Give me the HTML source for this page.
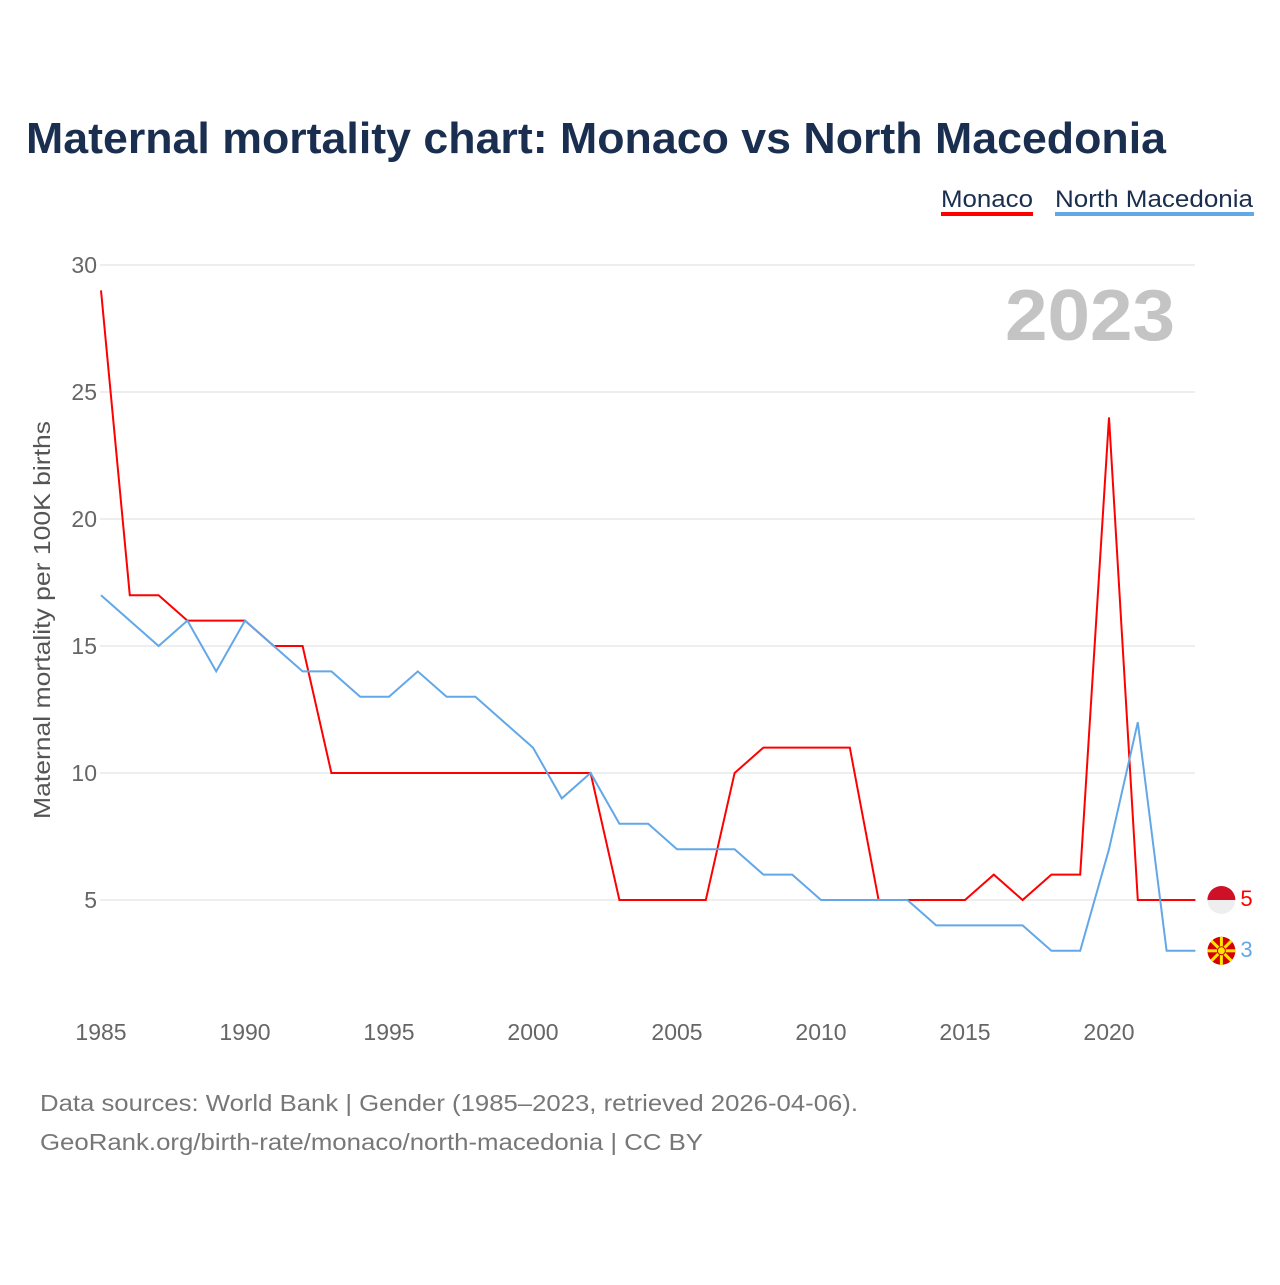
<!DOCTYPE html>
<html><head><meta charset="utf-8"><style>
body{margin:0;background:#fff;font-family:"Liberation Sans",sans-serif;}
</style></head><body>
<svg width="1280" height="1280" xmlns="http://www.w3.org/2000/svg">
<rect width="1280" height="1280" fill="#fff"/>
<text x="26" y="153" font-size="44" font-weight="bold" fill="#1a2e4f" textLength="1140" lengthAdjust="spacingAndGlyphs">Maternal mortality chart: Monaco vs North Macedonia</text>
<g>
<text x="941" y="207" font-size="24" fill="#1a2e4f" textLength="92" lengthAdjust="spacingAndGlyphs">Monaco</text>
<rect x="941" y="212" width="92" height="4" fill="#ff0000"/>
<text x="1055" y="207" font-size="24" fill="#1a2e4f" textLength="198" lengthAdjust="spacingAndGlyphs">North Macedonia</text>
<rect x="1055" y="212" width="199" height="4" fill="#62a8e8"/>
</g>
<g id="grid"></g>
<text x="1175" y="340" font-size="72" font-weight="bold" fill="#c4c4c4" text-anchor="end" textLength="170" lengthAdjust="spacingAndGlyphs">2023</text>
<text transform="translate(50,620) rotate(-90)" font-size="23" fill="#555" text-anchor="middle" textLength="398" lengthAdjust="spacingAndGlyphs">Maternal mortality per 100K births</text>
<g id="series"></g>
<text x="40" y="1111" font-size="23" fill="#777" textLength="818" lengthAdjust="spacingAndGlyphs">Data sources: World Bank | Gender (1985–2023, retrieved 2026-04-06).</text>
<text x="40" y="1150" font-size="23" fill="#777" textLength="663" lengthAdjust="spacingAndGlyphs">GeoRank.org/birth-rate/monaco/north-macedonia | CC BY</text>
</svg>
<script>
const years=[1985,1986,1987,1988,1989,1990,1991,1992,1993,1994,1995,1996,1997,1998,1999,2000,2001,2002,2003,2004,2005,2006,2007,2008,2009,2010,2011,2012,2013,2014,2015,2016,2017,2018,2019,2020,2021,2022,2023];
const monaco=[29,17,17,16,16,16,15,15,10,10,10,10,10,10,10,10,10,10,5,5,5,5,10,11,11,11,11,5,5,5,5,6,5,6,6,24,5,5,5];
const macedonia=[17,16,15,16,14,16,15,14,14,13,13,14,13,13,12,11,9,10,8,8,7,7,7,6,6,5,5,5,5,4,4,4,4,3,3,7,12,3,3];
const yTicks=[5,10,15,20,25,30];
const xTicks=[1985,1990,1995,2000,2005,2010,2015,2020];
const NS="http://www.w3.org/2000/svg";
const X=y=>101+(y-1985)*28.8;
const Y=v=>1027-v*25.4;
function mk(t,a,p){const e=document.createElementNS(NS,t);for(const k in a)e.setAttribute(k,a[k]);p.appendChild(e);return e;}
const grid=document.getElementById('grid');
yTicks.forEach(v=>{
 const l=mk('line',{x1:100,x2:1195,y1:Y(v),y2:Y(v),stroke:'#e8e8e8','stroke-width':1.5},grid);
 
 
 const t=mk('text',{x:97,y:Y(v)+8,'font-size':23,fill:'#666','text-anchor':'end'},grid);
 t.textContent=v;
 
 
});
xTicks.forEach(v=>{
 const t=mk('text',{x:X(v),y:1040,'font-size':23,fill:'#666','text-anchor':'middle'},grid);
 t.textContent=v;
 
 
});
const s=document.getElementById('series');
function line(data,color,name){
 const p=mk('polyline',{points:data.map((v,i)=>X(years[i])+','+Y(v)).join(' '),fill:'none',stroke:color,'stroke-width':2},s);
 
 
 const last=data[data.length-1],lx=X(years[years.length-1]);
 const t=mk('text',{x:lx+45,y:Y(last)+6,'font-size':22,fill:color},s);
 t.textContent=last;
 
 
 return {lx,ly:Y(last)};
}
const m=line(monaco,'#ff0000','monaco-line');
const n=line(macedonia,'#62a8e8','north-macedonia-line');
const f1=mk('g',{},s);


mk('clipPath',{id:'c1'},f1).appendChild(document.createElementNS(NS,'circle')).setAttribute('r',14);
document.querySelector('#c1 circle').setAttribute('cx',m.lx+26);document.querySelector('#c1 circle').setAttribute('cy',m.ly);
mk('rect',{x:m.lx+12,y:m.ly-14,width:28,height:14,fill:'#ce1126','clip-path':'url(#c1)'},f1);
mk('rect',{x:m.lx+12,y:m.ly,width:28,height:14,fill:'#eee','clip-path':'url(#c1)'},f1);
const f2=mk('g',{},s);


mk('circle',{cx:n.lx+26,cy:n.ly,r:14,fill:'#d20000'},f2);
for(let a=0;a<8;a++){const r=a*Math.PI/4;mk('line',{x1:n.lx+26,y1:n.ly,x2:n.lx+26+14*Math.cos(r),y2:n.ly+14*Math.sin(r),stroke:'#ffe600','stroke-width':3},f2);}
mk('circle',{cx:n.lx+26,cy:n.ly,r:4,fill:'#ffe600',stroke:'#d20000','stroke-width':1},f2);
</script>
</body></html>
